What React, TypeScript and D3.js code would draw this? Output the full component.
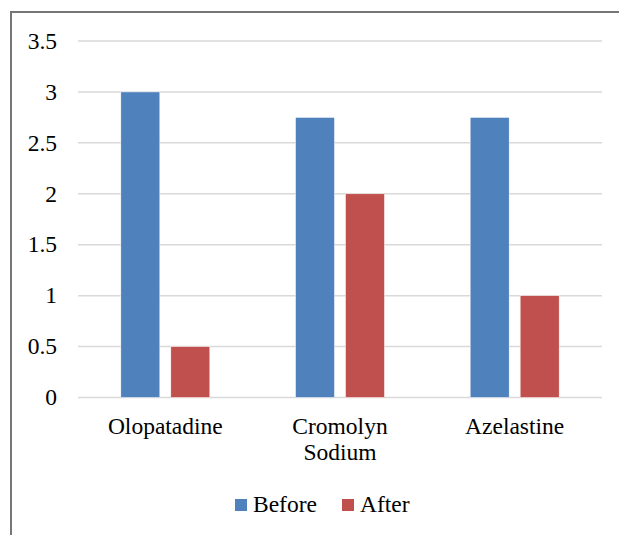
import { useEffect, useRef } from 'react'
import * as d3 from 'd3'

const categories = ['Olopatadine', 'Cromolyn Sodium', 'Azelastine']
const categoryLines = [['Olopatadine'], ['Cromolyn', 'Sodium'], ['Azelastine']]
const seriesNames = ['Before', 'After']
const beforeValues = [3, 2.75, 2.75]
const afterValues = [0.5, 2, 1]
const yTicks = [0, 0.5, 1, 1.5, 2, 2.5, 3, 3.5]
const colors = ['#4F81BD', '#C0504D']

export default function App() {
  const svgRef = useRef<SVGSVGElement>(null)

  useEffect(() => {
    if (!svgRef.current) return
    const svg = d3.select(svgRef.current)
    svg.selectAll('*').remove()

    const width = 619
    const height = 535
    const left = 78
    const right = 602
    const top = 41
    const bottom = 397.5
    const fontSize = 23.5

    // outer frame (only left/top visible in the crop)
    svg.append('rect')
      .attr('x', 11)
      .attr('y', 12)
      .attr('width', width)
      .attr('height', height)
      .attr('fill', 'white')
      .attr('stroke', '#767676')
      .attr('stroke-width', 2)

    const x0 = d3.scaleBand<string>()
      .domain(categories)
      .range([left, right])

    const x1 = d3.scaleBand<string>()
      .domain(seriesNames)
      .range([0, x0.bandwidth()])
      .paddingInner(0.22)
      .paddingOuter(0.857)

    const y = d3.scaleLinear()
      .domain([0, 3.5])
      .range([bottom, top])

    // gridlines
    svg.append('g')
      .selectAll('line')
      .data(yTicks)
      .enter().append('line')
      .attr('x1', left)
      .attr('x2', right)
      .attr('y1', d => y(d))
      .attr('y2', d => y(d))
      .attr('stroke', '#D9D9D9')
      .attr('stroke-width', 1.5)

    const textG = svg.append('g')
      .attr('font-family', 'Liberation Serif, Times New Roman, Times, serif')
      .attr('font-size', fontSize)
      .attr('fill', '#000')

    // y tick labels
    textG.append('g')
      .selectAll('text')
      .data(yTicks)
      .enter().append('text')
      .attr('x', 57)
      .attr('y', d => y(d))
      .attr('dy', '0.33em')
      .attr('text-anchor', 'end')
      .text(d => String(d))

    // bars
    const rows = categories.map((c, i) => ({ cat: c, values: [beforeValues[i], afterValues[i]] }))
    const groups = svg.append('g')
      .selectAll('g')
      .data(rows)
      .enter().append('g')
      .attr('transform', d => `translate(${x0(d.cat)},0)`)

    groups.selectAll('rect')
      .data(d => d.values.map((v, j) => ({ key: seriesNames[j], v, j })))
      .enter().append('rect')
      .attr('x', d => x1(d.key) as number)
      .attr('width', x1.bandwidth())
      .attr('y', d => y(d.v))
      .attr('height', d => y(0) - y(d.v))
      .attr('fill', d => colors[d.j])
      .attr('stroke', 'white')
      .attr('stroke-width', 0.5)

    // category labels
    textG.append('g')
      .selectAll('text')
      .data(categories)
      .enter().append('text')
      .attr('x', d => (x0(d) as number) + x0.bandwidth() / 2)
      .attr('y', 434)
      .attr('text-anchor', 'middle')
      .each(function (d, i) {
        const t = d3.select(this)
        categoryLines[i].forEach((line, k) => {
          t.append('tspan')
            .attr('x', (x0(d) as number) + x0.bandwidth() / 2)
            .attr('dy', k === 0 ? 0 : 26)
            .text(line)
        })
      })

    // legend
    const legendItems = [
      { label: seriesNames[0], x: 235 },
      { label: seriesNames[1], x: 342 }
    ]
    const legend = textG.append('g')
    legendItems.forEach((item, i) => {
      legend.append('rect')
        .attr('x', item.x)
        .attr('y', 499)
        .attr('width', 12)
        .attr('height', 12)
        .attr('fill', colors[i])
      legend.append('text')
        .attr('x', item.x + 18)
        .attr('y', 512)
        .text(item.label)
    })
  }, [])

  return (
    <svg
      ref={svgRef}
      width={619}
      height={535}
      style={{ position: 'absolute', left: 0, top: 0, background: 'white' }}
    />
  )
}
